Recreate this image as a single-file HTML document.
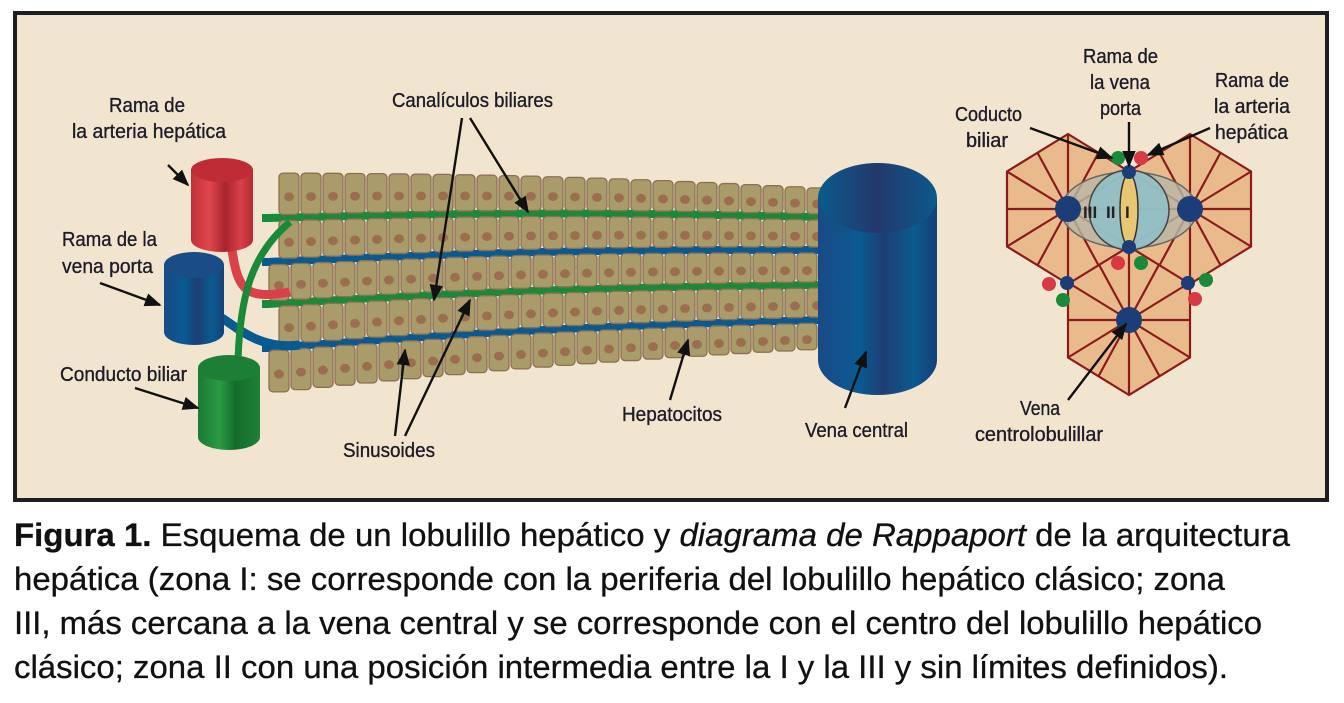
<!DOCTYPE html>
<html><head><meta charset="utf-8">
<style>
html,body{margin:0;padding:0;background:#fff;width:1344px;height:703px;overflow:hidden}
svg{display:block}
.l{font-family:"Liberation Sans Narrow","Liberation Sans",sans-serif;font-size:20px;fill:#1c1c28;stroke:#1c1c28;stroke-width:0.35}
.c{font-family:"Liberation Sans Narrow","Liberation Sans",sans-serif;font-size:32px;fill:#111;stroke:#111;stroke-width:0.3}
</style></head><body>
<svg id="s" width="1344" height="703" viewBox="0 0 1344 703" xmlns="http://www.w3.org/2000/svg">
<defs>
<linearGradient id="gr" x1="0" x2="1"><stop offset="0" stop-color="#c2303a"/><stop offset=".3" stop-color="#e0464e"/><stop offset=".55" stop-color="#a8242e"/><stop offset=".8" stop-color="#d8404a"/><stop offset="1" stop-color="#b02a34"/></linearGradient>
<linearGradient id="gb" x1="0" x2="1"><stop offset="0" stop-color="#1a4a86"/><stop offset=".35" stop-color="#0a5a92"/><stop offset=".55" stop-color="#1d3e74"/><stop offset=".8" stop-color="#0b5a90"/><stop offset="1" stop-color="#163f78"/></linearGradient>
<linearGradient id="gbt" x1="0" x2="1"><stop offset="0" stop-color="#0b5a8c"/><stop offset=".5" stop-color="#24386c"/><stop offset="1" stop-color="#0b5a8c"/></linearGradient>
<linearGradient id="gg" x1="0" x2="1"><stop offset="0" stop-color="#1b7a34"/><stop offset=".35" stop-color="#2a9a44"/><stop offset=".6" stop-color="#146c2c"/><stop offset="1" stop-color="#1f8038"/></linearGradient>
<marker id="ah" viewBox="0 0 10 10" refX="9" refY="5" markerWidth="7" markerHeight="7" orient="auto"><path d="M0,1 L10,5 L0,9 Z" fill="#111"/></marker>
</defs>
<rect x="15" y="13" width="1312" height="487" fill="#f2e5d0" stroke="#1e1e22" stroke-width="4"/>
<g id="cords"></g>
<path d="M232,250 C238,290 245,300 290,292" stroke="#d8404a" stroke-width="9" fill="none"/>
<path d="M222,318 C240,330 262,350 300,345" stroke="#0a5a92" stroke-width="9" fill="none"/>
<path d="M238,360 C240,300 250,255 290,222" stroke="#1a8a3a" stroke-width="7" fill="none"/>
<rect x="191" y="170" width="62" height="70" fill="url(#gr)"/><ellipse cx="222" cy="240" rx="31" ry="12" fill="url(#gr)"/><ellipse cx="222" cy="170" rx="31" ry="12" fill="#c02c36"/>
<rect x="164" y="265" width="60" height="67" fill="url(#gb)"/><ellipse cx="194" cy="332" rx="30" ry="13" fill="url(#gb)"/><ellipse cx="194" cy="265" rx="30" ry="13" fill="#1a4c86"/>
<rect x="198" y="368" width="62" height="69" fill="url(#gg)"/><ellipse cx="229" cy="437" rx="31" ry="13" fill="url(#gg)"/><ellipse cx="229" cy="368" rx="31" ry="13" fill="#1d7e36"/>
<rect x="818" y="198" width="119" height="162" fill="url(#gb)"/><ellipse cx="877.5" cy="360" rx="59.5" ry="35" fill="url(#gb)"/><ellipse cx="877.5" cy="198" rx="59.5" ry="35" fill="url(#gbt)"/>
<g id="hex" fill="#e9bb8c" stroke="#8b1a1a" stroke-width="2.2"></g>
<ellipse cx="1129" cy="210" rx="68" ry="38" fill="#b8b8a8" fill-opacity=".8" stroke="#666" stroke-width="1.5"/>
<circle cx="1129" cy="210" r="40" fill="#8dbfc8" fill-opacity=".85" stroke="#444" stroke-width="1.5"/>
<ellipse cx="1129" cy="210" rx="9" ry="36" fill="#e8c672" stroke="#333" stroke-width="1.5"/>
<text x="1083" y="218" style="font:bold 17px 'Liberation Sans',sans-serif;fill:#222">III</text>
<text x="1106" y="218" style="font:bold 17px 'Liberation Sans',sans-serif;fill:#222">II</text>
<text x="1125" y="218" style="font:bold 17px 'Liberation Sans',sans-serif;fill:#222">I</text>
<g fill="#1d3d78">
<circle cx="1068" cy="209" r="13"/><circle cx="1190" cy="209" r="13"/><circle cx="1129" cy="320" r="13"/>
<circle cx="1129" cy="172" r="7"/><circle cx="1129" cy="247" r="7"/><circle cx="1067" cy="283" r="7"/><circle cx="1188" cy="283" r="7"/>
</g>
<g fill="#d83a44"><circle cx="1141" cy="158" r="7"/><circle cx="1118" cy="263" r="7"/><circle cx="1049" cy="284" r="7"/><circle cx="1195" cy="299" r="7"/></g>
<g fill="#1a8a3a"><circle cx="1118" cy="158" r="7"/><circle cx="1141" cy="263" r="7"/><circle cx="1063" cy="300" r="7"/><circle cx="1206" cy="280" r="7"/></g>
<g stroke="#111" stroke-width="2.4" marker-end="url(#ah)" fill="none">
<line x1="168" y1="165" x2="188" y2="185"/>
<line x1="100" y1="283" x2="160" y2="305"/>
<line x1="135" y1="388" x2="198" y2="408"/>
<line x1="462" y1="118" x2="434" y2="300"/>
<line x1="470" y1="118" x2="528" y2="212"/>
<line x1="395" y1="436" x2="405" y2="350"/>
<line x1="405" y1="436" x2="470" y2="300"/>
<line x1="670" y1="400" x2="688" y2="340"/>
<line x1="845" y1="408" x2="866" y2="352"/>
<line x1="1030" y1="128" x2="1112" y2="158"/>
<line x1="1129" y1="122" x2="1129" y2="166"/>
<line x1="1210" y1="128" x2="1148" y2="155"/>
<line x1="1068" y1="400" x2="1126" y2="324"/>
</g>
<g class="l" text-anchor="start">
<text x="109" y="112" textLength="76" lengthAdjust="spacingAndGlyphs">Rama de</text>
<text x="72" y="138" textLength="154" lengthAdjust="spacingAndGlyphs">la arteria hepática</text>
<text x="62" y="246" textLength="95" lengthAdjust="spacingAndGlyphs">Rama de la</text>
<text x="62" y="273" textLength="91" lengthAdjust="spacingAndGlyphs">vena porta</text>
<text x="60" y="381" textLength="127" lengthAdjust="spacingAndGlyphs">Conducto biliar</text>
<text x="392" y="107" textLength="161" lengthAdjust="spacingAndGlyphs">Canalículos biliares</text>
<text x="343" y="457" textLength="92" lengthAdjust="spacingAndGlyphs">Sinusoides</text>
<text x="622" y="421" textLength="100" lengthAdjust="spacingAndGlyphs">Hepatocitos</text>
<text x="805" y="437" textLength="103" lengthAdjust="spacingAndGlyphs">Vena central</text>
<text x="955" y="121" textLength="67" lengthAdjust="spacingAndGlyphs">Coducto</text>
<text x="966" y="147" textLength="42" lengthAdjust="spacingAndGlyphs">biliar</text>
<text x="1083" y="63" textLength="75" lengthAdjust="spacingAndGlyphs">Rama de</text>
<text x="1090" y="89" textLength="60" lengthAdjust="spacingAndGlyphs">la vena</text>
<text x="1100" y="115" textLength="41" lengthAdjust="spacingAndGlyphs">porta</text>
<text x="1215" y="87" textLength="74" lengthAdjust="spacingAndGlyphs">Rama de</text>
<text x="1214" y="113" textLength="76" lengthAdjust="spacingAndGlyphs">la arteria</text>
<text x="1215" y="139" textLength="73" lengthAdjust="spacingAndGlyphs">hepática</text>
<text x="1020" y="415" textLength="40" lengthAdjust="spacingAndGlyphs">Vena</text>
<text x="975" y="441" textLength="128" lengthAdjust="spacingAndGlyphs">centrolobulillar</text>
</g>
<g class="c">
<text x="14" y="546" textLength="1276" lengthAdjust="spacingAndGlyphs"><tspan font-weight="bold">Figura 1.</tspan> Esquema de un lobulillo hepático y <tspan font-style="italic">diagrama de Rappaport</tspan> de la arquitectura</text>
<text x="14" y="590" textLength="1211" lengthAdjust="spacingAndGlyphs">hepática (zona I: se corresponde con la periferia del lobulillo hepático clásico; zona</text>
<text x="14" y="634" textLength="1248" lengthAdjust="spacingAndGlyphs">III, más cercana a la vena central y se corresponde con el centro del lobulillo hepático</text>
<text x="14" y="678" textLength="1214" lengthAdjust="spacingAndGlyphs">clásico; zona II con una posición intermedia entre la I y la III y sin límites definidos).</text>
</g>
</svg>
<script>
(function(){
var NS="http://www.w3.org/2000/svg";
function el(t,a,p){var e=document.createElementNS(NS,t);for(var k in a)e.setAttribute(k,a[k]);p.appendChild(e);return e;}
var g=document.getElementById('cords');
var x0=268,x1=820;
var L=[170,218,262,304,348,396], R=[185,217,250,285,320,352];
function yb(i,x){var t=(x-x0)/(x1-x0);var c=Math.sin(t*Math.PI)*-4;return L[i]+(R[i]-L[i])*t+c;}
var cols=['#1a8a3a','#0a5a92','#1a8a3a','#0a5a92'];
for(var i=1;i<5;i++){var d='M'+(x0-6)+','+yb(i,x0);for(var x=x0;x<=x1;x+=10)d+=' L'+x+','+yb(i,x);
el('path',{d:d,stroke:cols[i-1],'stroke-width':8,fill:'none'},g);}
for(var r=0;r<5;r++){
 var w=22, off=(r%2)*10;
 for(var x=x0+off-(r==0?-10:0);x<x1-4;x+=w){
  var xm=x+w/2,top=yb(r,xm)+3,bot=yb(r+1,xm)-3;
  el('rect',{x:x+1,y:top,width:w-2,height:bot-top,rx:4,fill:'#a99c6a',stroke:'#8c6e52','stroke-width':1.3},g);
  el('ellipse',{cx:xm,cy:(top+bot)/2+3,rx:5,ry:4.5,fill:'#9b6e50'},g);
 }
}
var h=document.getElementById('hex');
function hex(cx,cy){var rx=61,ry=75;var pts=[[0,-ry],[rx,-ry/2],[rx,ry/2],[0,ry],[-rx,ry/2],[-rx,-ry/2]].map(function(p){return [cx+p[0],cy+p[1]];});
 el('polygon',{points:pts.map(function(p){return p.join(',')}).join(' ')},h);
 var d='';for(var i=0;i<6;i++){var a=pts[i],b=pts[(i+1)%6];d+='M'+cx+','+cy+' L'+a[0]+','+a[1]+' M'+cx+','+cy+' L'+((a[0]+b[0])/2)+','+((a[1]+b[1])/2)+' ';}
 el('path',{d:d,fill:'none'},h);}
hex(1129,320);hex(1068,209);hex(1190,209);
})();
</script>
</body></html>
